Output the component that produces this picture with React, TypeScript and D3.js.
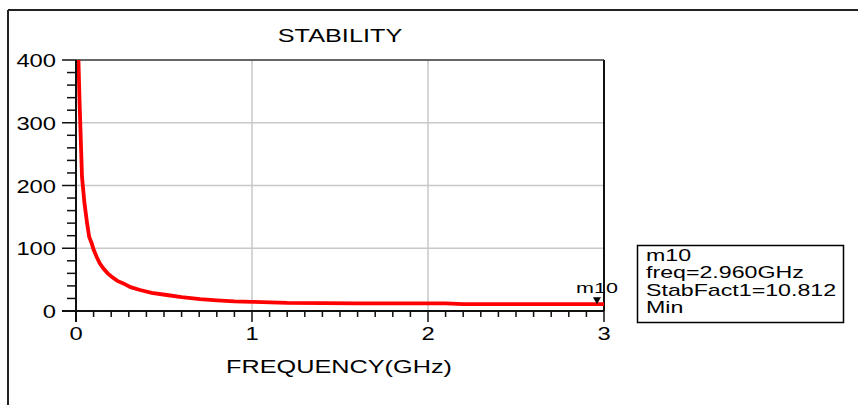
import React from "react";
import * as d3 from "d3";

const freqGHz = [0.005, 0.012, 0.02, 0.034, 0.048, 0.062, 0.075, 0.089, 0.1, 0.117, 0.135, 0.155, 0.18, 0.203, 0.235, 0.269, 0.31, 0.364, 0.43, 0.515, 0.6, 0.705, 0.8, 0.9, 1.0, 1.2, 1.6, 2.1, 2.2, 2.6, 2.96, 3.0];
const stabFact = [520, 420, 336, 214, 172, 142, 118, 108, 98, 86.5, 76, 68, 60, 54.7, 48, 44, 38, 33.5, 29, 25.5, 22, 19, 17, 15.3, 14.6, 12.8, 12.3, 12.0, 11.0, 10.9, 10.812, 10.8];
const xTicks = [0, 1, 2, 3];
const yTicks = [0, 100, 200, 300, 400];
const title = "STABILITY";
const xLabel = "FREQUENCY(GHz)";
const markerName = "m10";
const markerFreq = 2.96;
const markerValue = 10.812;
const markerLines = ["m10", "freq=2.960GHz", "StabFact1=10.812", "Min"];

const FONT = "'Liberation Sans', Arial, sans-serif";

function SText({ x, y, size, sx, anchor = "start", children }: any) {
  return (
    <text
      transform={`translate(${x},${y}) scale(${sx},1)`}
      textAnchor={anchor}
      fontFamily={FONT}
      fontSize={size}
      fill="#000"
    >
      {children}
    </text>
  );
}

export default function App() {
  const x = d3.scaleLinear().domain([0, 3]).range([76, 604]);
  const y = d3.scaleLinear().domain([0, 400]).range([311, 60]);
  const pts = freqGHz.map((f, i) => [f, stabFact[i]] as [number, number]);
  const line = d3
    .line<[number, number]>()
    .x((d) => x(d[0]))
    .y((d) => y(d[1]));
  const xMinor = d3.range(0, 3.0001, 0.1);
  const yMinor = d3.range(0, 400.0001, 20);
  const mx = x(markerFreq);
  const my = y(markerValue);
  return (
    <svg
      width={858}
      height={405}
      style={{ position: "absolute", left: 0, top: 0, background: "#fff" }}
    >
      <defs>
        <clipPath id="plotclip">
          <rect x={x(0)} y={y(400)} width={x(3) - x(0)} height={y(0) - y(400)} />
        </clipPath>
      </defs>
      {/* outer frame */}
      <line x1={8} x2={858} y1={10} y2={10} stroke="#222" strokeWidth={2} />
      <line x1={8} x2={8} y1={10} y2={405} stroke="#222" strokeWidth={2} />

      {/* grid */}
      {xTicks.slice(1, -1).map((t) => (
        <line key={"gx" + t} x1={x(t)} x2={x(t)} y1={y(400)} y2={y(0)} stroke="#c8c8c8" strokeWidth={1.5} />
      ))}
      {yTicks.slice(1, -1).map((t) => (
        <line key={"gy" + t} x1={x(0)} x2={x(3)} y1={y(t)} y2={y(t)} stroke="#c8c8c8" strokeWidth={1.5} />
      ))}

      {/* plot border */}
      <line x1={x(0)} x2={x(3)} y1={y(400)} y2={y(400)} stroke="#333" strokeWidth={1.5} />
      <line x1={x(3)} x2={x(3)} y1={y(400)} y2={y(0)} stroke="#111" strokeWidth={2} />

      {/* curve */}
      <path d={line(pts) || ""} fill="none" stroke="#ff0000" strokeWidth={3.8} clipPath="url(#plotclip)" />

      {/* axes */}
      <line x1={x(0)} x2={x(0)} y1={y(400)} y2={y(0) + 11} stroke="#111" strokeWidth={2} />
      <line x1={x(0) - 14} x2={x(3)} y1={y(0)} y2={y(0)} stroke="#111" strokeWidth={2} />
      {yMinor.map((t) => {
        const major = t % 100 === 0;
        return (
          <line key={"ym" + t} x1={x(0) - (major ? 14 : 9)} x2={x(0)} y1={y(t)} y2={y(t)} stroke="#111" strokeWidth={1.5} />
        );
      })}
      {xMinor.map((t) => {
        const major = Math.abs(t - Math.round(t)) < 1e-6;
        return (
          <line key={"xm" + t.toFixed(1)} x1={x(t)} x2={x(t)} y1={y(0)} y2={y(0) + (major ? 11 : 6)} stroke="#111" strokeWidth={1.5} />
        );
      })}
      {yTicks.map((t) => (
        <SText key={"yl" + t} x={56} y={y(t) + 7} size={19} sx={1.25} anchor="end">
          {String(t)}
        </SText>
      ))}
      {xTicks.map((t) => (
        <SText key={"xl" + t} x={x(t)} y={340} size={19} sx={1.25} anchor="middle">
          {String(t)}
        </SText>
      ))}

      {/* title & axis label */}
      <SText x={340} y={42} size={19} sx={1.33} anchor="middle">{title}</SText>
      <SText x={339} y={373} size={19} sx={1.33} anchor="middle">{xLabel}</SText>

      {/* marker */}
      <path d={`M${mx - 4},${my - 7} L${mx + 4},${my - 7} L${mx},${my} Z`} fill="#000" />
      <SText x={597} y={293} size={15.5} sx={1.39} anchor="middle">{markerName}</SText>

      {/* marker readout box */}
      <rect x={637.5} y={245.5} width={206} height={77} fill="#fff" stroke="#000" strokeWidth={1.5} />
      {markerLines.map((s, i) => (
        <SText key={"ml" + i} x={646} y={261 + i * 17.3} size={16} sx={1.45}>
          {s}
        </SText>
      ))}
    </svg>
  );
}
